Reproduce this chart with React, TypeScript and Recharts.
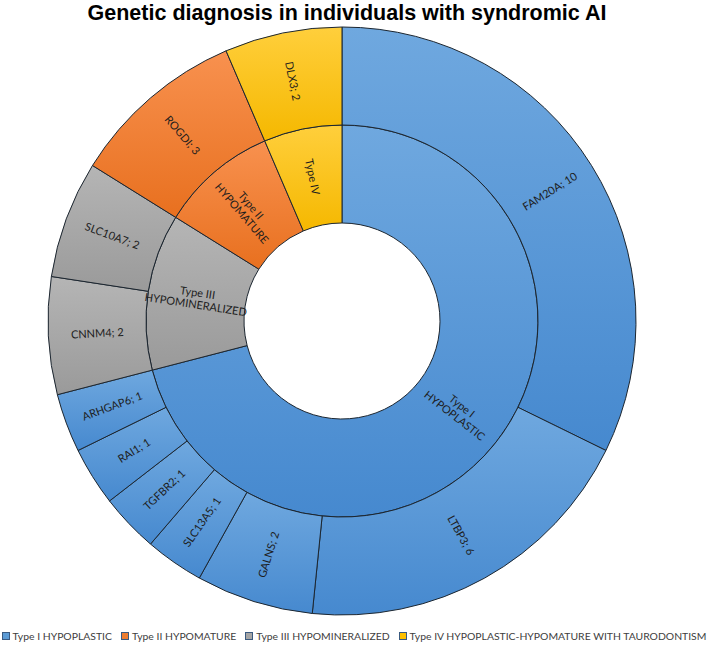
import React from 'react';
import { PieChart, Pie, Cell, Legend } from 'recharts';

const typeNames = ['Type I HYPOPLASTIC', 'Type II HYPOMATURE', 'Type III HYPOMINERALIZED', 'Type IV HYPOPLASTIC-HYPOMATURE WITH TAURODONTISM'];
const typeColors = ['blue', 'orange', 'gray', 'gold'];

// inner ring, clockwise from 12 o'clock
const innerLabels = ['Type I\nHYPOPLASTIC', 'Type III\nHYPOMINERALIZED', 'Type II\nHYPOMATURE', 'Type IV'];
const innerValues = [22, 4, 3, 2];
const innerColorKeys = ['blue', 'gray', 'orange', 'gold'];

// outer ring
const genes = ['FAM20A', 'LTBP3', 'GALNS', 'SLC13A5', 'TGFBR2', 'RAI1', 'ARHGAP6', 'CNNM4', 'SLC10A7', 'ROGDI', 'DLX3'];
const geneValues = [10, 6, 2, 1, 1, 1, 1, 2, 2, 3, 2];
const geneColorKeys = ['blue', 'blue', 'blue', 'blue', 'blue', 'blue', 'blue', 'gray', 'gray', 'orange', 'gold'];

const gradStops: Record<string, [string, string]> = {
  blue: ['#6fa8df', '#4689cf'],
  orange: ['#f8914f', '#e8701f'],
  gray: ['#b5b5b5', '#9a9a9a'],
  gold: ['#ffcf3c', '#f5b800'],
};
const legendSwatch: Record<string, string> = {
  blue: '#5b9bd5',
  orange: '#ed7d31',
  gray: '#a5a5a5',
  gold: '#ffc000',
};

const innerData = innerLabels.map((l, i) => ({ name: l, value: innerValues[i], key: innerColorKeys[i] }));
const outerData = genes.map((g, i) => ({ name: `${g}; ${geneValues[i]}`, value: geneValues[i], key: geneColorKeys[i] }));

const RAD = Math.PI / 180;

const renderLabel = (props: any) => {
  const { cx, cy, midAngle, innerRadius, outerRadius, name } = props;
  const r = (innerRadius + outerRadius) / 2;
  const x = cx + r * Math.cos(-midAngle * RAD);
  const y = cy + r * Math.sin(-midAngle * RAD);
  let rot = -midAngle;
  if (Math.cos(midAngle * RAD) < 0) rot += 180;
  const lines = String(name).split('\n');
  const lh = 12;
  return (
    <text
      x={x}
      y={y}
      transform={`rotate(${rot}, ${x}, ${y})`}
      textAnchor="middle"
      fill="#1d1d1d"
      fontSize={11}
      fontFamily="Lato, 'Noto Sans', sans-serif"
    >
      {lines.map((ln, i) => (
        <tspan key={i} x={x} y={y + (i - (lines.length - 1) / 2) * lh} dy="0.35em">
          {ln}
        </tspan>
      ))}
    </text>
  );
};

const LegendContent = () => (
  <div
    style={{
      display: 'flex',
      justifyContent: 'center',
      alignItems: 'center',
      fontFamily: "Lato, 'Noto Sans', sans-serif",
      fontSize: 10.4,
      color: '#404040',
      whiteSpace: 'nowrap',
    }}
  >
    {typeNames.map((t, i) => (
      <span key={t} style={{ display: 'inline-flex', alignItems: 'center', marginRight: i < typeNames.length - 1 ? 9 : 0 }}>
        <span
          style={{
            display: 'inline-block',
            width: 6,
            height: 6,
            background: legendSwatch[typeColors[i]],
            border: '1px solid #3a5a80',
            marginRight: 3,
          }}
        />
        {t}
      </span>
    ))}
  </div>
);

export default function App() {
  return (
    <div style={{ position: 'absolute', left: 0, top: 0, width: 708, height: 648, background: '#fff' }}>
      <div
        style={{
          position: 'absolute',
          left: 0,
          top: 0,
          width: 694,
          textAlign: 'center',
          fontFamily: "'Liberation Sans', Arial, sans-serif",
          fontWeight: 'bold',
          fontSize: 21.5,
          lineHeight: '26px',
          color: '#000',
        }}
      >
        Genetic diagnosis in individuals with syndromic AI
      </div>
      <PieChart
        width={708}
        height={648}
        margin={{ top: 0, right: 0, bottom: 0, left: 0 }}
        style={{ position: 'absolute', left: 0, top: 0 }}
      >
        <defs>
          {Object.keys(gradStops).map((k) => (
            <linearGradient key={k} id={`grad-${k}`} x1="0" y1="0" x2="0" y2="1">
              <stop offset="0%" stopColor={gradStops[k][0]} />
              <stop offset="100%" stopColor={gradStops[k][1]} />
            </linearGradient>
          ))}
        </defs>
        <Pie
          data={innerData}
          dataKey="value"
          cx={342}
          cy={321}
          innerRadius={98}
          outerRadius={196}
          startAngle={90}
          endAngle={-270}
          stroke="#1c2630"
          strokeWidth={1}
          label={renderLabel}
          labelLine={false}
          isAnimationActive={false}
        >
          {innerData.map((d, i) => (
            <Cell key={i} fill={`url(#grad-${d.key})`} />
          ))}
        </Pie>
        <Pie
          data={outerData}
          dataKey="value"
          cx={342}
          cy={321}
          innerRadius={196}
          outerRadius={294}
          startAngle={90}
          endAngle={-270}
          stroke="#1c2630"
          strokeWidth={1}
          label={renderLabel}
          labelLine={false}
          isAnimationActive={false}
        >
          {outerData.map((d, i) => (
            <Cell key={i} fill={`url(#grad-${d.key})`} />
          ))}
        </Pie>
        <Legend
          content={<LegendContent />}
          verticalAlign="bottom"
          wrapperStyle={{ position: 'absolute', left: 0, top: 630, width: 708, height: 14, bottom: 'auto' }}
        />
      </PieChart>
    </div>
  );
}
